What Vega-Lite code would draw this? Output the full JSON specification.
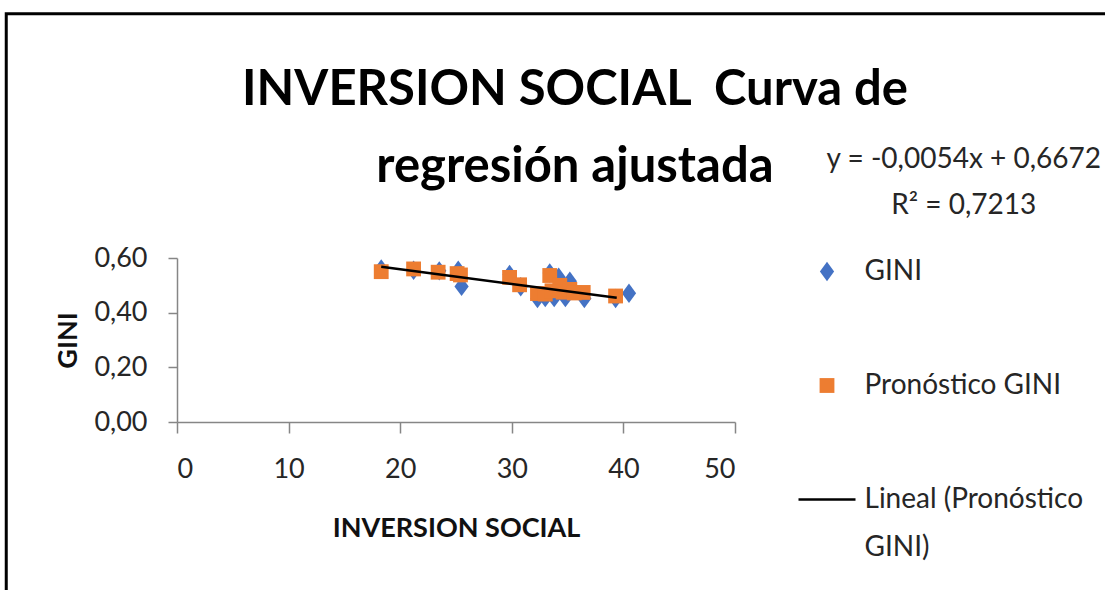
{
  "$schema": "https://vega.github.io/schema/vega-lite/v6.json",
  "width": 558,
  "height": 164,
  "autosize": {"type": "none"},
  "padding": {"left": 177, "top": 258, "right": 370, "bottom": 168},
  "background": "white",
  "config": {
    "font": "Lato",
    "view": {"stroke": null},
    "style": {"guide-label": {"lineHeight": 48}},
    "axis": {"grid": false, "domainColor": "#868686", "tickColor": "#868686", "domainWidth": 1.5, "tickWidth": 1.5, "labelColor": "#262626", "labelFont": "Lato", "titleFont": "Lato", "titleColor": "#111111", "titleFontWeight": "bold"}
  },
  "title": {
    "text": ["INVERSION SOCIAL\u00a0 Curva de", "regresión ajustada"],
    "anchor": "middle",
    "frame": "group",
    "dx": 119,
    "dy": 234,
    "fontSize": 49,
    "fontWeight": "bold",
    "font": "Lato",
    "color": "#000000",
    "lineHeight": 77,
    "offset": 54
  },
  "data": {
    "values": [
      {"serie": "GINI", "x": 18.3, "y": 0.56},
      {"serie": "GINI", "x": 21.2, "y": 0.555},
      {"serie": "GINI", "x": 23.5, "y": 0.553},
      {"serie": "GINI", "x": 25.2, "y": 0.555},
      {"serie": "GINI", "x": 25.5, "y": 0.496},
      {"serie": "GINI", "x": 29.8, "y": 0.54},
      {"serie": "GINI", "x": 30.8, "y": 0.495},
      {"serie": "GINI", "x": 32.3, "y": 0.452},
      {"serie": "GINI", "x": 33.0, "y": 0.455},
      {"serie": "GINI", "x": 33.4, "y": 0.545},
      {"serie": "GINI", "x": 33.8, "y": 0.455},
      {"serie": "GINI", "x": 34.2, "y": 0.53},
      {"serie": "GINI", "x": 34.8, "y": 0.455},
      {"serie": "GINI", "x": 35.2, "y": 0.515},
      {"serie": "GINI", "x": 36.5, "y": 0.452},
      {"serie": "GINI", "x": 39.3, "y": 0.452},
      {"serie": "GINI", "x": 40.5, "y": 0.471},
      {"serie": "Pronóstico GINI", "x": 18.3, "y": 0.55},
      {"serie": "Pronóstico GINI", "x": 21.2, "y": 0.56},
      {"serie": "Pronóstico GINI", "x": 23.4, "y": 0.548},
      {"serie": "Pronóstico GINI", "x": 25.1, "y": 0.543},
      {"serie": "Pronóstico GINI", "x": 25.4, "y": 0.538},
      {"serie": "Pronóstico GINI", "x": 29.8, "y": 0.529},
      {"serie": "Pronóstico GINI", "x": 30.7, "y": 0.502},
      {"serie": "Pronóstico GINI", "x": 32.3, "y": 0.47},
      {"serie": "Pronóstico GINI", "x": 33.0, "y": 0.468},
      {"serie": "Pronóstico GINI", "x": 33.4, "y": 0.536},
      {"serie": "Pronóstico GINI", "x": 33.6, "y": 0.48},
      {"serie": "Pronóstico GINI", "x": 34.3, "y": 0.5},
      {"serie": "Pronóstico GINI", "x": 34.6, "y": 0.475},
      {"serie": "Pronóstico GINI", "x": 35.2, "y": 0.485},
      {"serie": "Pronóstico GINI", "x": 35.6, "y": 0.472},
      {"serie": "Pronóstico GINI", "x": 36.4, "y": 0.474},
      {"serie": "Pronóstico GINI", "x": 39.3, "y": 0.461},
      {"serie": "Lineal (Pronóstico GINI)", "x": 18.3, "y": 0.568},
      {"serie": "Lineal (Pronóstico GINI)", "x": 39.4, "y": 0.4544}
    ]
  },
  "layer": [
    {
      "data": {"values": [{"marco": "borde del gráfico"}]},
      "mark": {"type": "rect", "fill": null, "stroke": "#000000", "strokeWidth": 3, "clip": false},
      "encoding": {
        "x": {"datum": -15.3, "type": "quantitative", "scale": {"domain": [0, 50], "nice": false, "zero": false}},
        "x2": {"datum": 120},
        "y": {"datum": 1.494, "type": "quantitative", "scale": {"domain": [0, 0.6], "nice": false, "zero": false}},
        "y2": {"datum": -1}
      }
    },
    {
      "transform": [{"filter": "datum.serie != 'Lineal (Pronóstico GINI)'"}],
      "mark": {"type": "point", "filled": true, "opacity": 1, "size": 3249, "strokeWidth": 0},
      "encoding": {
        "x": {
          "field": "x", "type": "quantitative",
          "scale": {"domain": [0, 50], "nice": false, "zero": false},
          "axis": {"values": [0, 10, 20, 30, 40, 50], "tickSize": 11, "labelPadding": 23, "labelFontSize": 27, "title": "INVERSION SOCIAL", "titleFontSize": 27, "titlePadding": 33}
        },
        "y": {
          "field": "y", "type": "quantitative",
          "scale": {"domain": [0, 0.6], "nice": false, "zero": false},
          "axis": {"values": [0, 0.2, 0.4, 0.6], "tickSize": 9, "labelPadding": 21, "labelFontSize": 27, "labelExpr": "replace(format(datum.value, '.2f'), '.', ',')", "title": "GINI", "titleFontSize": 27, "titlePadding": 11}
        },
        "color": {
          "field": "serie", "type": "nominal",
          "scale": {"domain": ["GINI", "Pronóstico GINI", "Lineal (Pronóstico GINI)"], "range": ["#4472C4", "#ED7D31", "#000000"]},
          "legend": {
            "title": null, "orient": "none", "legendX": 620.5, "legendY": -16, "direction": "vertical",
            "symbolSize": 3249, "labelFontSize": 28, "labelFont": "Lato", "labelColor": "#262626", "labelOffset": 8, "rowPadding": 70, "padding": 0, "labelLimit": 400,
            "labelExpr": "datum.label == 'Lineal (Pronóstico GINI)' ? ['Lineal (Pronóstico', 'GINI)'] : datum.label"
          }
        },
        "shape": {
          "field": "serie", "type": "nominal",
          "scale": {"domain": ["GINI", "Pronóstico GINI", "Lineal (Pronóstico GINI)"], "range": ["M0,-0.34L0.25,0L0,0.34L-0.25,0Z", "M-0.26,-0.26L0.26,-0.26L0.26,0.26L-0.26,0.26Z", "M-1,-0.04L1,-0.04L1,0.04L-1,0.04Z"]},
          "legend": {
            "title": null, "orient": "none", "legendX": 620.5, "legendY": -16, "direction": "vertical",
            "symbolSize": 3249, "labelFontSize": 28, "labelFont": "Lato", "labelColor": "#262626", "labelOffset": 8, "rowPadding": 70, "padding": 0, "labelLimit": 400,
            "labelExpr": "datum.label == 'Lineal (Pronóstico GINI)' ? ['Lineal (Pronóstico', 'GINI)'] : datum.label"
          }
        }
      }
    },
    {
      "transform": [{"filter": "datum.serie == 'Lineal (Pronóstico GINI)'"}],
      "mark": {"type": "line", "color": "#000000", "strokeWidth": 2.5},
      "encoding": {
        "x": {"field": "x", "type": "quantitative", "scale": {"domain": [0, 50], "nice": false, "zero": false}},
        "y": {"field": "y", "type": "quantitative", "scale": {"domain": [0, 0.6], "nice": false, "zero": false}}
      }
    },
    {
      "data": {"values": [{"texto": ["y = -0,0054x + 0,6672", "R² = 0,7213"]}]},
      "mark": {"type": "text", "font": "Lato", "fontSize": 28, "color": "#262626", "align": "center", "baseline": "middle", "lineHeight": 46},
      "encoding": {
        "x": {"datum": 70.5, "type": "quantitative", "scale": {"domain": [0, 50], "nice": false, "zero": false}},
        "y": {"datum": 0.957, "type": "quantitative", "scale": {"domain": [0, 0.6], "nice": false, "zero": false}},
        "text": {"field": "texto"}
      }
    }
  ]
}
